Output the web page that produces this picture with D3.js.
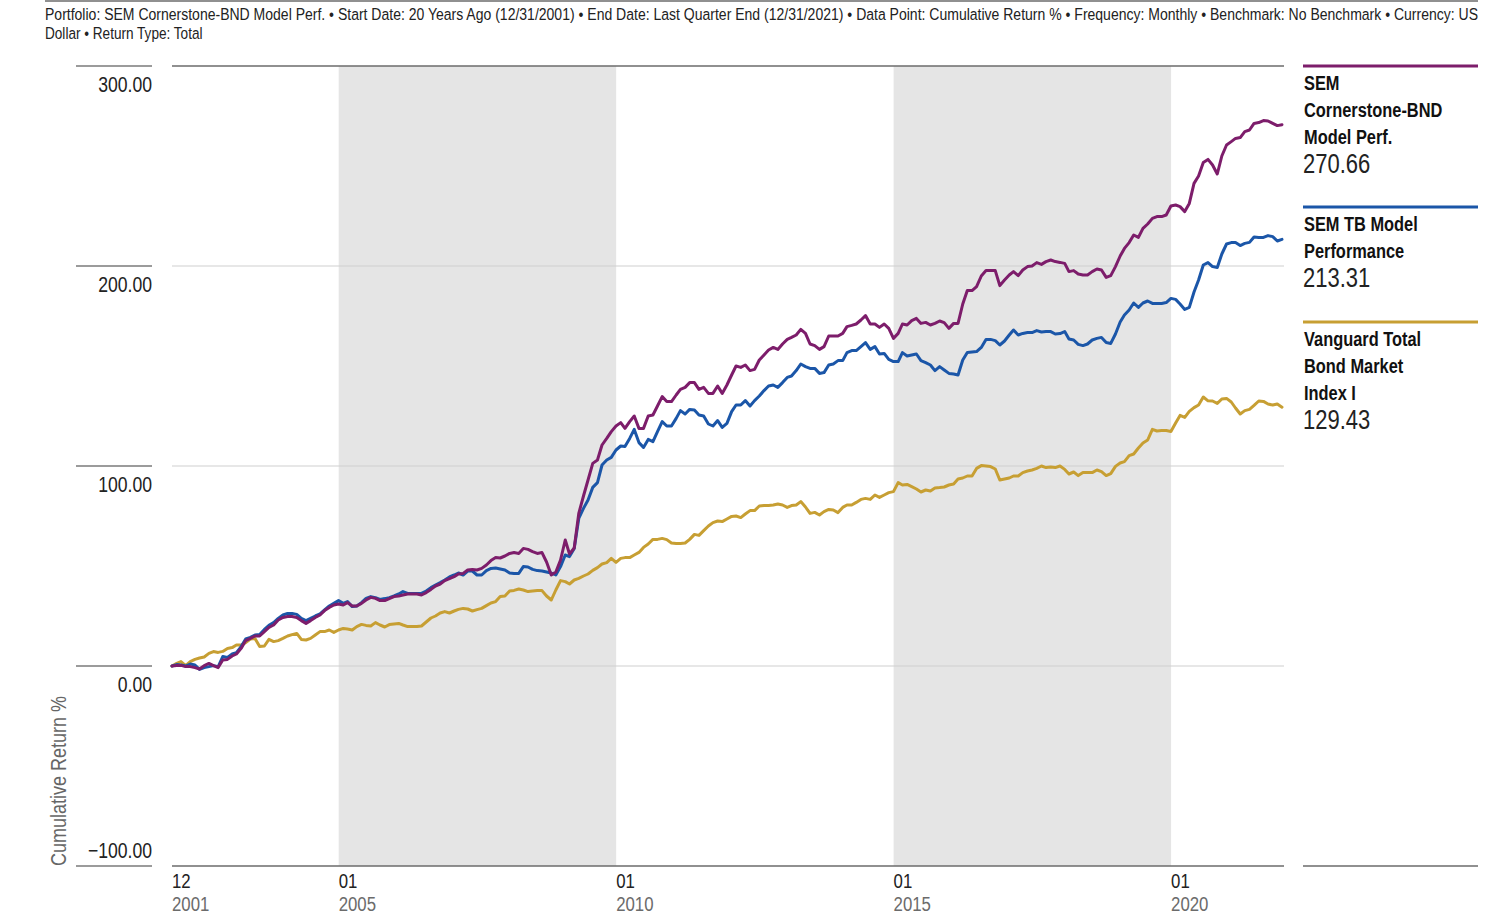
<!DOCTYPE html>
<html><head><meta charset="utf-8">
<script src="https://cdn.jsdelivr.net/npm/d3@7"></script>
<style>
body{margin:0;background:#fff;}
svg text{font-family:"Liberation Sans",Arial,sans-serif;}
</style></head><body>
<svg id="chart" width="1498" height="920"></svg>
<script>
const headerLines = [
  "Portfolio: SEM Cornerstone-BND Model Perf. \u2022 Start Date: 20 Years Ago (12/31/2001) \u2022 End Date: Last Quarter End (12/31/2021) \u2022 Data Point: Cumulative Return % \u2022 Frequency: Monthly \u2022 Benchmark: No Benchmark \u2022 Currency: US",
  "Dollar \u2022 Return Type: Total"
];
const yAxisTitle = "Cumulative Return %";
const startMonth = [2001, 12];   // first data point: 12/31/2001, monthly to 12/31/2021
const seriesNames = ["SEM Cornerstone-BND Model Perf.", "SEM TB Model Performance", "Vanguard Total Bond Market Index I"];
const legendLines = [["SEM", "Cornerstone-BND", "Model Perf."], ["SEM TB Model", "Performance"], ["Vanguard Total", "Bond Market", "Index I"]];
const legendValues = ["270.66", "213.31", "129.43"];
const seriesColors = ["#7d1d6b", "#1b56a8", "#c79f33"];

const cornerstone = [
0,0.2,0.3,-0.3,-0.3,-0.8,-1.5,0.2,1.3,0.2,-0.8,3,
3.3,5,6,8.8,12.7,13.8,15,15,17.2,19.3,20.5,23,
24.3,24.7,24.7,24.3,22.7,21.3,22.7,24.3,25.5,27.7,29.3,30.5,
31,30.5,31.7,30,30,31.3,33,34.3,33.8,32.7,32.7,33.7,
34.7,35,35.5,36,36,36,35.5,36.7,38.3,40,41,42.7,
43.7,44.7,46,46.3,48,48.3,48,48.8,50.5,52.7,54.2,54,
55,56.3,56.7,56.3,58.8,58.3,57.2,56.3,56.7,52,45.5,47,
53,63,56,59,76.3,85,93,101.3,103,110.5,113.8,117.2,
120,121.7,118.8,122.2,125,118.8,118.8,125,125.5,130,134.7,132.2,
132.2,135.5,138.3,139.3,141.7,141.7,138.3,139.3,136.3,136.3,140,136.3,
140.5,145.5,150,149.3,150.5,147.7,148.3,153,155.5,158,159.3,158.3,
161,163.3,164.3,165.5,168.3,166.3,161,160.2,158.3,159.7,165,165,
165,166.3,169.7,170.3,171,173,175.2,171,171,169.3,171,168.8,
163.8,166.3,171,170.5,172.7,173.8,171.3,171.8,170.5,171.3,172.5,171.7,
168.8,171.3,171.3,181,187.7,187.7,189.7,195,197.7,197.7,197.7,190.2,
193,195.5,197.2,195.2,198,199.7,200,201.7,200.8,202.2,203,202.2,
201.8,201.3,197.2,197.7,196,195.5,195.5,197.2,198.5,198,194.3,195.2,
199.7,205,208.8,211.7,215.5,214.3,218.8,221,223.8,224.7,224.7,225.5,
230,230.5,229.7,227.2,231.3,241.3,245,251.7,253.3,250.5,246,255,
260.5,262.2,263.8,264.2,267.2,268,271.3,271.7,272.7,272.5,271.3,270.2,
270.66];

const tbModel = [
0,0.7,0.5,0,1,0.5,-1.7,-0.8,-0.3,0.2,-0.3,4.7,
4.3,6,6.7,9.7,13.5,14.3,15.5,15.7,18.3,20.3,21.7,23.8,
25.5,26.3,26.3,25.8,23.8,22.7,23.8,25,26,28,30,31.3,
32.7,31.3,32.2,29.7,30,31.7,33.8,34.7,34.2,33.3,33.7,34.2,
35,36,37.2,36.3,36.3,36.3,36.3,37.5,39.2,40.5,41.7,43,
44.5,45.5,46.5,45.5,47.5,47.5,45.5,45.5,47.7,48.8,49,48.5,
48,46.5,46.3,46.3,49.7,49.5,48.3,47.7,47.5,47,46.5,45.5,
49.7,55.5,54.7,58.8,73.8,78.8,83,89.3,91.7,100.5,103,104.3,
108,110,109.7,113.8,118.3,111.7,109.3,113.3,112.2,117.2,122.2,120,
120,123.8,127.7,126,128.3,128,125.5,125,121,120,122.7,119.3,
121.3,127.2,130.5,130.5,132.7,130,132.7,135,137.7,140,140.5,139.3,
141.7,144.3,145,147.7,151,149.7,148.8,148.8,146.3,146.7,150.5,151,
152.7,152.7,156.7,157.7,157.7,159.7,161.7,158.3,159.7,156,156.3,153.3,
152.2,152.2,156.7,155,155.5,156,152.7,151.7,150.5,147.7,149.7,148,
146.3,146,145.5,153,156.8,157,157.2,159.3,163.3,163.3,162.7,160.5,
162.5,165.5,168,165.5,166.3,166.7,166.7,167.7,167,167.2,167.2,166,
166.2,167.2,163.5,163,160.8,160.2,161,163,163.8,164.3,161.7,161.3,
166,172,175.5,178,181.5,179.3,181.5,182.5,181.3,181.3,181.3,181.7,
183.8,183.3,181,178.3,179.3,187,193,200.5,201.7,199.7,199.3,206,
211,211.7,211.7,210.2,211.3,211.8,214.5,214.3,214.3,215.2,214.7,212.5,
213.31];

const vanguard = [
0,1.3,2.2,0.2,2.2,3.3,4,4.5,6.3,7.2,6.8,7.3,
8.8,9.2,10.5,10.5,11.7,13.5,13.8,9.7,10,13.3,12.2,12.7,
13.8,15,15.7,16.3,13.3,13,13.8,15.5,17.2,17.2,18,16.8,
18,18.8,18.5,18,19.7,20.8,20.3,20,21.7,20.5,19.5,20.7,
21,21.3,20.5,19.7,19.7,19.7,20,22,24,25,26.5,27.2,
26.5,27.5,28.3,28.8,28.5,27.5,28.2,28.8,30.2,31.5,32.2,34.7,
35,37.5,37.8,38.5,38,37.2,37.5,37.7,37.7,35,33,38,
42.7,42.2,41,43,43.8,45,46,47.8,49.2,51,51.7,53.8,
51.8,53.8,54.2,54.2,55.5,56.8,59.3,61,63.3,63.3,63.8,63.2,
61.5,61.3,61.3,61.5,63.3,65.8,65.3,67.7,70,71.7,72.5,72.2,
73.5,74.8,75,74.2,76,77.7,77.7,80,80.2,80.3,80.5,81,
80.5,79.3,80.2,80.5,82.2,79.5,76.3,76.8,75.5,77.2,78.3,78,
76.7,79.3,80.5,80.5,81.8,83.3,83.8,83.3,85.5,84.3,85.5,86.7,
87.2,91.7,90.5,90.8,89.7,88.5,87,88,87.5,89,89.2,89.5,
90.5,91,93.5,94,95,95,98.8,100.2,100,99.7,98.5,93,
93.5,94,95,95,96.7,97.5,98,98.8,100,99.2,99.5,99.2,
100,98.3,96,97,95.2,96.7,96.7,96.7,98,97.2,95.2,96.2,
99.8,101.5,102.2,105.2,106,109,111.5,113,118.3,117.5,117.7,117.7,
117.3,121.5,125.3,124.3,127.3,129.2,130.5,134.5,132.6,132.5,131.3,133.5,
133.8,132,129,126,127.7,128.3,130.3,132.5,132.3,131,130.5,131,
129.43];

const yTicks = [-100, 0, 100, 200, 300];
const xTickDates = ["2001-12-31", "2005-01-01", "2010-01-01", "2015-01-01", "2020-01-01"];
const xTickMonths = ["12", "01", "01", "01", "01"];
const xTickYears = ["2001", "2005", "2010", "2015", "2020"];
const shadedBands = [["2005-01-01", "2010-01-01"], ["2015-01-01", "2020-01-01"]];

// ---------------- drawing ----------------
const NARROW = 0.8; // emulate a condensed face by horizontal scaling
const svg = d3.select("#chart");
const parse = d3.timeParse("%Y-%m-%d");
const monthEnd = i => new Date(startMonth[0], startMonth[1] + i, 0);

function ntext(g, px, py, t, size, fill, opts = {}) {
  const rot = opts.rotate ? ` rotate(${opts.rotate})` : "";
  const el = g.append("text")
    .attr("transform", `translate(${px},${py})${rot} scale(${NARROW},1)`)
    .attr("font-size", size).attr("fill", fill).text(t);
  if (opts.anchor) el.attr("text-anchor", opts.anchor);
  if (opts.weight) el.attr("font-weight", opts.weight);
  if (opts.length) el.attr("textLength", opts.length / NARROW).attr("lengthAdjust", "spacingAndGlyphs");
  return el;
}

const plotL = 172, plotR = 1284, plotT = 66, plotB = 866;
const x = d3.scaleTime().domain([parse("2001-12-31"), parse("2021-12-31")]).range([172, 1282]);
const y = d3.scaleLinear().domain([-100, 300]).range([plotB, plotT]);

// header
svg.append("line").attr("x1", 45).attr("x2", 1478).attr("y1", 1).attr("y2", 1)
  .attr("stroke", "#6b6b6b").attr("stroke-width", 1.5);
const hg = svg.append("g");
headerLines.forEach((t, k) => {
  ntext(hg, 45, 20 + k * 19, t, 17, "#222", k === 0 ? { length: 1433 } : {});
});

// shaded bands
svg.append("g").selectAll("rect").data(shadedBands).join("rect")
  .attr("x", d => x(parse(d[0]))).attr("width", d => x(parse(d[1])) - x(parse(d[0])))
  .attr("y", plotT).attr("height", plotB - plotT).attr("fill", "#e5e5e5");

// gridlines
svg.append("g").selectAll("line").data(yTicks).join("line")
  .attr("x1", plotL).attr("x2", plotR)
  .attr("y1", d => y(d)).attr("y2", d => y(d))
  .attr("stroke", d => (d === 300 || d === -100) ? "#6b6b6b" : "#cfcfcf")
  .attr("stroke-width", d => (d === 300 || d === -100) ? 1.5 : 1.2);

// left axis segments and labels
const fmt = d3.format(".2f");
const yax = svg.append("g");
yax.selectAll("line").data(yTicks).join("line")
  .attr("x1", 76).attr("x2", 152).attr("y1", d => y(d)).attr("y2", d => y(d))
  .attr("stroke", "#7a7a7a").attr("stroke-width", 1.5);
yTicks.forEach(d => {
  ntext(yax, 152, d === -100 ? y(d) - 8 : y(d) + 26, fmt(d), 22, "#222", { anchor: "end" });
});

// y axis title
ntext(svg, 66, 866, yAxisTitle, 22.5, "#666", { rotate: -90 });

// x axis labels
const xax = svg.append("g");
xTickDates.forEach((d, k) => {
  const px = k === 0 ? plotL : x(parse(d));
  ntext(xax, px, 888, xTickMonths[k], 21, "#222");
  ntext(xax, px, 911, xTickYears[k], 21, "#6b6b6b");
});

// lines
const allSeries = [vanguard, tbModel, cornerstone];
const colorsDraw = [seriesColors[2], seriesColors[1], seriesColors[0]];
const line = d3.line().x((d, i) => x(monthEnd(i))).y(d => y(d)).curve(d3.curveLinear);
svg.append("g").selectAll("path").data(allSeries).join("path")
  .attr("d", line).attr("fill", "none")
  .attr("stroke", (d, k) => colorsDraw[k]).attr("stroke-width", 3)
  .attr("stroke-linejoin", "round").attr("stroke-linecap", "round");

// legend
const legTop = [66, 207, 322];
const lg = svg.append("g");
legendLines.forEach((lines, k) => {
  const y0 = legTop[k];
  lg.append("line").attr("x1", 1303).attr("x2", 1478).attr("y1", y0).attr("y2", y0)
    .attr("stroke", seriesColors[k]).attr("stroke-width", 3);
  lines.forEach((t, j) => {
    ntext(lg, 1304, y0 + 24 + j * 27, t, 20.5, "#111", { weight: "bold" });
  });
  ntext(lg, 1303, y0 + 24 + (lines.length - 1) * 27 + 29, legendValues[k], 27.5, "#222");
});
lg.append("line").attr("x1", 1303).attr("x2", 1478).attr("y1", plotB).attr("y2", plotB)
  .attr("stroke", "#6b6b6b").attr("stroke-width", 1.5);
</script>
</body></html>
